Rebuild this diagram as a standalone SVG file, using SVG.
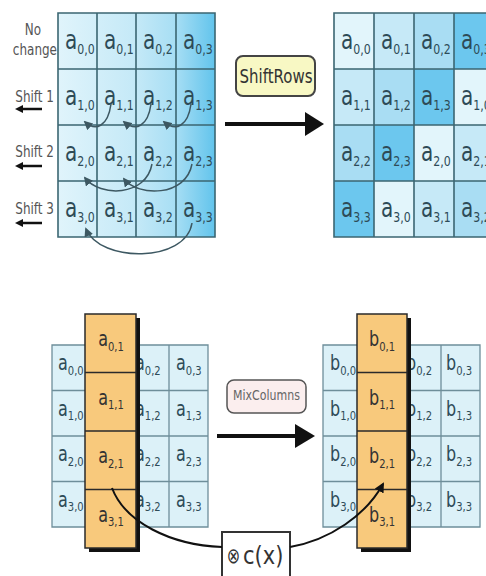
<svg xmlns="http://www.w3.org/2000/svg" width="486" height="576" viewBox="0 0 486 576">
<defs>
<linearGradient id="gTop" x1="58" y1="0" x2="215" y2="0" gradientUnits="userSpaceOnUse">
<stop offset="0" stop-color="#e0f4fb"/>
<stop offset="0.5" stop-color="#c4e9f7"/>
<stop offset="0.75" stop-color="#a7def4"/>
<stop offset="1" stop-color="#62c4ec"/>
</linearGradient>
<marker id="mArc" viewBox="0 0 10 10" refX="8" refY="5" markerWidth="6" markerHeight="6" orient="auto">
<path d="M0,0 L10,5 L0,10 z" fill="#3d5862"/>
</marker>
<marker id="mBlk" viewBox="0 0 10 10" refX="8" refY="5" markerWidth="5" markerHeight="5" orient="auto">
<path d="M0,0 L10,5 L0,10 z" fill="#111"/>
</marker>
<style>
.ct{font-family:"DejaVu Sans",sans-serif;font-size:20px;fill:#2e4b57}
.cb{font-family:"DejaVu Sans",sans-serif;font-size:16px;fill:#2e4b57}
.co{font-family:"DejaVu Sans",sans-serif;font-size:16px;fill:#333}
.s1{font-size:11px}
.s2{font-size:10px}
.lab{font-family:"DejaVu Sans",sans-serif;font-size:12px;fill:#555;text-anchor:end}
.gl{stroke:#3b6672;stroke-width:1.6;fill:none}
.gb{stroke:#6e8e9a;stroke-width:1.3;fill:none}
.arc{stroke:#3d5862;stroke-width:1.5;fill:none;marker-end:url(#mArc)}
.blk{stroke:#111;fill:none}
.or{fill:#f8c97c;stroke:#2a2a2a;stroke-width:1.5}
.c0{fill:#e2f5fb}.c1{fill:#c6e9f7}.c2{fill:#a9ddf3}.c3{fill:#6cc7ee}
</style>
</defs>
<rect width="486" height="576" fill="#fff"/>

<g id="row-labels">
<text class="lab" transform="translate(33,35) scale(1,1.3)" style="text-anchor:middle">No</text>
<text class="lab" transform="translate(57,55) scale(1,1.3)">change</text>
<text class="lab" transform="translate(54,102) scale(1,1.3)">Shift 1</text>
<text class="lab" transform="translate(54,157) scale(1,1.3)">Shift 2</text>
<text class="lab" transform="translate(54,214) scale(1,1.3)">Shift 3</text>
<g fill="#111" stroke="#111">
<line x1="21" y1="109" x2="42" y2="109" stroke-width="2.5"/><polygon points="15,109 23,105 23,113" stroke="none"/>
<line x1="21" y1="166" x2="42" y2="166" stroke-width="2.5"/><polygon points="15,166 23,162 23,170" stroke="none"/>
<line x1="21" y1="223" x2="42" y2="223" stroke-width="2.5"/><polygon points="15,223 23,219 23,227" stroke="none"/>
</g>
</g>

<g id="state-before">
<rect x="58" y="13" width="157" height="224" fill="url(#gTop)"/>
<path class="gl" d="M58,13 H215 V237 H58 Z M97,13 V237 M136,13 V237 M176,13 V237 M58,69 H215 M58,125 H215 M58,181 H215"/>
<text class="ct" transform="translate(65,49) scale(1,1.3)">a<tspan class="s1" dy="3.5">0,0</tspan></text>
<text class="ct" transform="translate(104,49) scale(1,1.3)">a<tspan class="s1" dy="3.5">0,1</tspan></text>
<text class="ct" transform="translate(143,49) scale(1,1.3)">a<tspan class="s1" dy="3.5">0,2</tspan></text>
<text class="ct" transform="translate(183,49) scale(1,1.3)">a<tspan class="s1" dy="3.5">0,3</tspan></text>
<text class="ct" transform="translate(65,105) scale(1,1.3)">a<tspan class="s1" dy="3.5">1,0</tspan></text>
<text class="ct" transform="translate(104,105) scale(1,1.3)">a<tspan class="s1" dy="3.5">1,1</tspan></text>
<text class="ct" transform="translate(143,105) scale(1,1.3)">a<tspan class="s1" dy="3.5">1,2</tspan></text>
<text class="ct" transform="translate(183,105) scale(1,1.3)">a<tspan class="s1" dy="3.5">1,3</tspan></text>
<text class="ct" transform="translate(65,161) scale(1,1.3)">a<tspan class="s1" dy="3.5">2,0</tspan></text>
<text class="ct" transform="translate(104,161) scale(1,1.3)">a<tspan class="s1" dy="3.5">2,1</tspan></text>
<text class="ct" transform="translate(143,161) scale(1,1.3)">a<tspan class="s1" dy="3.5">2,2</tspan></text>
<text class="ct" transform="translate(183,161) scale(1,1.3)">a<tspan class="s1" dy="3.5">2,3</tspan></text>
<text class="ct" transform="translate(65,217) scale(1,1.3)">a<tspan class="s1" dy="3.5">3,0</tspan></text>
<text class="ct" transform="translate(104,217) scale(1,1.3)">a<tspan class="s1" dy="3.5">3,1</tspan></text>
<text class="ct" transform="translate(143,217) scale(1,1.3)">a<tspan class="s1" dy="3.5">3,2</tspan></text>
<text class="ct" transform="translate(183,217) scale(1,1.3)">a<tspan class="s1" dy="3.5">3,3</tspan></text>
</g>

<g id="state-after">
<rect class="c0" x="334" y="13" width="40" height="56"/><rect class="c1" x="374" y="13" width="40" height="56"/><rect class="c2" x="414" y="13" width="40" height="56"/><rect class="c3" x="454" y="13" width="40" height="56"/>
<rect class="c1" x="334" y="69" width="40" height="56"/><rect class="c2" x="374" y="69" width="40" height="56"/><rect class="c3" x="414" y="69" width="40" height="56"/><rect class="c0" x="454" y="69" width="40" height="56"/>
<rect class="c2" x="334" y="125" width="40" height="56"/><rect class="c3" x="374" y="125" width="40" height="56"/><rect class="c0" x="414" y="125" width="40" height="56"/><rect class="c1" x="454" y="125" width="40" height="56"/>
<rect class="c3" x="334" y="181" width="40" height="56"/><rect class="c0" x="374" y="181" width="40" height="56"/><rect class="c1" x="414" y="181" width="40" height="56"/><rect class="c2" x="454" y="181" width="40" height="56"/>
<path class="gl" d="M334,13 H494 V237 H334 Z M374,13 V237 M414,13 V237 M454,13 V237 M334,69 H494 M334,125 H494 M334,181 H494"/>
<text class="ct" transform="translate(341,49) scale(1,1.3)">a<tspan class="s1" dy="3.5">0,0</tspan></text>
<text class="ct" transform="translate(381,49) scale(1,1.3)">a<tspan class="s1" dy="3.5">0,1</tspan></text>
<text class="ct" transform="translate(421,49) scale(1,1.3)">a<tspan class="s1" dy="3.5">0,2</tspan></text>
<text class="ct" transform="translate(461,49) scale(1,1.3)">a<tspan class="s1" dy="3.5">0,3</tspan></text>
<text class="ct" transform="translate(341,105) scale(1,1.3)">a<tspan class="s1" dy="3.5">1,1</tspan></text>
<text class="ct" transform="translate(381,105) scale(1,1.3)">a<tspan class="s1" dy="3.5">1,2</tspan></text>
<text class="ct" transform="translate(421,105) scale(1,1.3)">a<tspan class="s1" dy="3.5">1,3</tspan></text>
<text class="ct" transform="translate(461,105) scale(1,1.3)">a<tspan class="s1" dy="3.5">1,0</tspan></text>
<text class="ct" transform="translate(341,161) scale(1,1.3)">a<tspan class="s1" dy="3.5">2,2</tspan></text>
<text class="ct" transform="translate(381,161) scale(1,1.3)">a<tspan class="s1" dy="3.5">2,3</tspan></text>
<text class="ct" transform="translate(421,161) scale(1,1.3)">a<tspan class="s1" dy="3.5">2,0</tspan></text>
<text class="ct" transform="translate(461,161) scale(1,1.3)">a<tspan class="s1" dy="3.5">2,1</tspan></text>
<text class="ct" transform="translate(341,217) scale(1,1.3)">a<tspan class="s1" dy="3.5">3,3</tspan></text>
<text class="ct" transform="translate(381,217) scale(1,1.3)">a<tspan class="s1" dy="3.5">3,0</tspan></text>
<text class="ct" transform="translate(421,217) scale(1,1.3)">a<tspan class="s1" dy="3.5">3,1</tspan></text>
<text class="ct" transform="translate(461,217) scale(1,1.3)">a<tspan class="s1" dy="3.5">3,2</tspan></text>
</g>

<g id="shiftrows-label">
<rect x="236" y="56" width="79" height="40" rx="7" fill="#f8f8c4" stroke="#444" stroke-width="2"/>
<text transform="translate(276,83) scale(1,1.35)" font-family="DejaVu Sans, sans-serif" font-size="15" fill="#333" text-anchor="middle">ShiftRows</text>
</g>

<g id="mix-before">
<rect x="52" y="345" width="156" height="182" fill="#dcf1f8"/>
<path class="gb" d="M52,345 H208 V527 H52 Z M91,345 V527 M130,345 V527 M169,345 V527 M52,390.5 H208 M52,436 H208 M52,481.5 H208"/>
<text class="cb" transform="translate(58,370) scale(1,1.3)">a<tspan class="s2" dy="3.5">0,0</tspan></text>
<text class="cb" transform="translate(135,370) scale(1,1.3)">a<tspan class="s2" dy="3.5">0,2</tspan></text>
<text class="cb" transform="translate(176,370) scale(1,1.3)">a<tspan class="s2" dy="3.5">0,3</tspan></text>
<text class="cb" transform="translate(58,415.5) scale(1,1.3)">a<tspan class="s2" dy="3.5">1,0</tspan></text>
<text class="cb" transform="translate(135,415.5) scale(1,1.3)">a<tspan class="s2" dy="3.5">1,2</tspan></text>
<text class="cb" transform="translate(176,415.5) scale(1,1.3)">a<tspan class="s2" dy="3.5">1,3</tspan></text>
<text class="cb" transform="translate(58,461) scale(1,1.3)">a<tspan class="s2" dy="3.5">2,0</tspan></text>
<text class="cb" transform="translate(135,461) scale(1,1.3)">a<tspan class="s2" dy="3.5">2,2</tspan></text>
<text class="cb" transform="translate(176,461) scale(1,1.3)">a<tspan class="s2" dy="3.5">2,3</tspan></text>
<text class="cb" transform="translate(58,506.5) scale(1,1.3)">a<tspan class="s2" dy="3.5">3,0</tspan></text>
<text class="cb" transform="translate(135,506.5) scale(1,1.3)">a<tspan class="s2" dy="3.5">3,2</tspan></text>
<text class="cb" transform="translate(176,506.5) scale(1,1.3)">a<tspan class="s2" dy="3.5">3,3</tspan></text>
</g>
<g id="column-before">
<rect x="89" y="318" width="51" height="234" fill="#111"/>
<rect class="or" x="85" y="314" width="51" height="234"/>
<path d="M85,372.5 H136 M85,431 H136 M85,489.5 H136" stroke="#2a2a2a" stroke-width="1.5"/>
<text class="co" transform="translate(111,346) scale(1,1.3)" text-anchor="middle">a<tspan class="s2" dy="3.5">0,1</tspan></text>
<text class="co" transform="translate(111,404.5) scale(1,1.3)" text-anchor="middle">a<tspan class="s2" dy="3.5">1,1</tspan></text>
<text class="co" transform="translate(111,463) scale(1,1.3)" text-anchor="middle">a<tspan class="s2" dy="3.5">2,1</tspan></text>
<text class="co" transform="translate(111,521.5) scale(1,1.3)" text-anchor="middle">a<tspan class="s2" dy="3.5">3,1</tspan></text>
</g>

<g id="mix-after">
<rect x="323" y="345" width="157" height="182" fill="#dcf1f8"/>
<path class="gb" d="M323,345 H480 V527 H323 Z M362,345 V527 M401.5,345 V527 M441,345 V527 M323,390.5 H480 M323,436 H480 M323,481.5 H480"/>
<text class="cb" transform="translate(330,370) scale(1,1.3)">b<tspan class="s2" dy="3.5">0,0</tspan></text>
<text class="cb" transform="translate(406,370) scale(1,1.3)">b<tspan class="s2" dy="3.5">0,2</tspan></text>
<text class="cb" transform="translate(446,370) scale(1,1.3)">b<tspan class="s2" dy="3.5">0,3</tspan></text>
<text class="cb" transform="translate(330,415.5) scale(1,1.3)">b<tspan class="s2" dy="3.5">1,0</tspan></text>
<text class="cb" transform="translate(406,415.5) scale(1,1.3)">b<tspan class="s2" dy="3.5">1,2</tspan></text>
<text class="cb" transform="translate(446,415.5) scale(1,1.3)">b<tspan class="s2" dy="3.5">1,3</tspan></text>
<text class="cb" transform="translate(330,461) scale(1,1.3)">b<tspan class="s2" dy="3.5">2,0</tspan></text>
<text class="cb" transform="translate(406,461) scale(1,1.3)">b<tspan class="s2" dy="3.5">2,2</tspan></text>
<text class="cb" transform="translate(446,461) scale(1,1.3)">b<tspan class="s2" dy="3.5">2,3</tspan></text>
<text class="cb" transform="translate(330,506.5) scale(1,1.3)">b<tspan class="s2" dy="3.5">3,0</tspan></text>
<text class="cb" transform="translate(406,506.5) scale(1,1.3)">b<tspan class="s2" dy="3.5">3,2</tspan></text>
<text class="cb" transform="translate(446,506.5) scale(1,1.3)">b<tspan class="s2" dy="3.5">3,3</tspan></text>
</g>
<g id="column-after">
<rect x="361" y="318" width="50" height="234" fill="#111"/>
<rect class="or" x="357" y="314" width="50" height="234"/>
<path d="M357,372.5 H407 M357,431 H407 M357,489.5 H407" stroke="#2a2a2a" stroke-width="1.5"/>
<text class="co" transform="translate(382,346) scale(1,1.3)" text-anchor="middle">b<tspan class="s2" dy="3.5">0,1</tspan></text>
<text class="co" transform="translate(382,404.5) scale(1,1.3)" text-anchor="middle">b<tspan class="s2" dy="3.5">1,1</tspan></text>
<text class="co" transform="translate(382,463) scale(1,1.3)" text-anchor="middle">b<tspan class="s2" dy="3.5">2,1</tspan></text>
<text class="co" transform="translate(382,521.5) scale(1,1.3)" text-anchor="middle">b<tspan class="s2" dy="3.5">3,1</tspan></text>
</g>

<g id="mixcolumns-label">
<rect x="227" y="380" width="79" height="33" rx="7" fill="#fbeeee" stroke="#555" stroke-width="1.5"/>
<text transform="translate(266.5,400) scale(1,1.3)" font-family="DejaVu Sans, sans-serif" font-size="11" fill="#666" text-anchor="middle">MixColumns</text>
</g>

<g id="cx-box">
<rect x="222" y="532" width="68" height="50" fill="#fff" stroke="#333" stroke-width="2"/>
<text transform="translate(233.5,563) scale(1,1.35)" font-family="DejaVu Sans, sans-serif" font-size="16" fill="#333" text-anchor="middle">⊗</text>
<text transform="translate(243,564) scale(1,1.15)" font-family="DejaVu Sans, sans-serif" font-size="21" fill="#333">c(x)</text>
</g>

<g id="connectors">
<path class="arc" d="M111,104 C108,126 96,132 85,122"/>
<path class="arc" d="M151,104 C148,126 136,132 124,122"/>
<path class="arc" d="M191,104 C188,126 176,132 164,122"/>
<path class="arc" d="M152,164 C146,197 100,197 85,178"/>
<path class="arc" d="M192,164 C186,197 138,197 124,179"/>
<path class="arc" d="M192,223 C186,263 100,263 86,229"/>
<line x1="225" y1="124" x2="307" y2="124" stroke="#111" stroke-width="4"/>
<polygon points="305,112 324,124 305,136" fill="#111"/>
<line x1="217" y1="436" x2="297" y2="436" stroke="#111" stroke-width="4"/>
<polygon points="295,424 315,436 295,448" fill="#111"/>
<path class="blk" stroke-width="2" d="M112,488 C125,522 170,545 222,547"/>
<path class="blk" stroke-width="2" marker-end="url(#mBlk)" d="M290,547 C330,540 366,515 383,484"/>
</g>
</svg>
